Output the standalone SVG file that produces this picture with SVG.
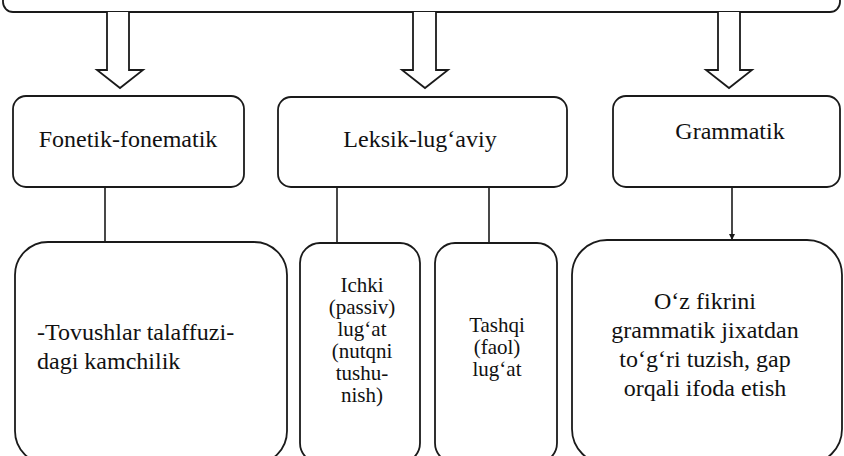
<svg xmlns="http://www.w3.org/2000/svg" width="844" height="456" viewBox="0 0 844 456">
<style>
.box{fill:#fff;stroke:#1a1a1a;stroke-width:1.8}
.blk{fill:#fff;stroke:#1a1a1a;stroke-width:1.8;stroke-linejoin:miter}
.ln{stroke:#1a1a1a;stroke-width:1.6;fill:none}
text{font-family:"Liberation Serif","DejaVu Serif","Noto Serif",serif;font-size:24px;fill:#111}
.c{text-anchor:middle}
.s{font-size:21px}
</style>
<defs>
<marker id="ah" viewBox="0 0 10 10" refX="10" refY="5" markerWidth="6" markerHeight="6" orient="auto" markerUnits="userSpaceOnUse">
<path d="M0,0 L10,5 L0,10 z" fill="#1a1a1a"/>
</marker>
</defs>
<rect width="844" height="456" fill="#fff"/>
<g id="top">
<rect class="box" x="3" y="-40" width="837" height="52" rx="10"/>
</g>
<g id="block-arrows">
<path class="blk" d="M107,12 V70 H97 L120,88 L143,70 H129 V12"/>
<path class="blk" d="M413,12 V70 H402 L425,88 L448,70 H436 V12"/>
<path class="blk" d="M718,12 V70 H706 L729,88 L752,70 H740 V12"/>
</g>
<g id="connectors">
<line class="ln" x1="105" y1="187" x2="105" y2="242"/>
<line class="ln" x1="337" y1="187" x2="337" y2="243"/>
<line class="ln" x1="489" y1="187" x2="489" y2="243"/>
<line class="ln" x1="732" y1="187" x2="732" y2="240" marker-end="url(#ah)"/>
</g>
<g id="fonetik">
<rect class="box" x="13" y="96" width="231" height="91" rx="13"/>
<text class="c" x="128" y="147">Fonetik-fonematik</text>
</g>
<g id="leksik">
<rect class="box" x="278" y="97" width="289" height="90" rx="13"/>
<text class="c" x="420" y="147">Leksik-lug‘aviy</text>
</g>
<g id="grammatik">
<rect class="box" x="613" y="96" width="227" height="91" rx="13"/>
<text class="c" x="730" y="139">Grammatik</text>
</g>
<g id="tovush">
<rect class="box" x="15" y="242" width="272" height="222" rx="33"/>
<text x="37" y="340">-Tovushlar talaffuzi-</text>
<text x="37" y="369">dagi kamchilik</text>
</g>
<g id="ichki">
<rect class="box" x="300" y="243" width="120" height="220" rx="20"/>
<text class="c s" x="362" y="292">Ichki</text>
<text class="c s" x="362" y="314">(passiv)</text>
<text class="c s" x="362" y="336">lug‘at</text>
<text class="c s" x="362" y="358">(nutqni</text>
<text class="c s" x="362" y="380">tushu-</text>
<text class="c s" x="362" y="402">nish)</text>
</g>
<g id="tashqi">
<rect class="box" x="435" y="243" width="122" height="220" rx="20"/>
<text class="c s" x="497" y="332">Tashqi</text>
<text class="c s" x="497" y="354">(faol)</text>
<text class="c s" x="497" y="376">lug‘at</text>
</g>
<g id="fikr">
<rect class="box" x="572" y="240" width="270" height="224" rx="35"/>
<text class="c" x="705" y="309">O‘z fikrini</text>
<text class="c" x="705" y="338">grammatik jixatdan</text>
<text class="c" x="705" y="367">to‘g‘ri tuzish, gap</text>
<text class="c" x="705" y="396">orqali ifoda etish</text>
</g>
</svg>
